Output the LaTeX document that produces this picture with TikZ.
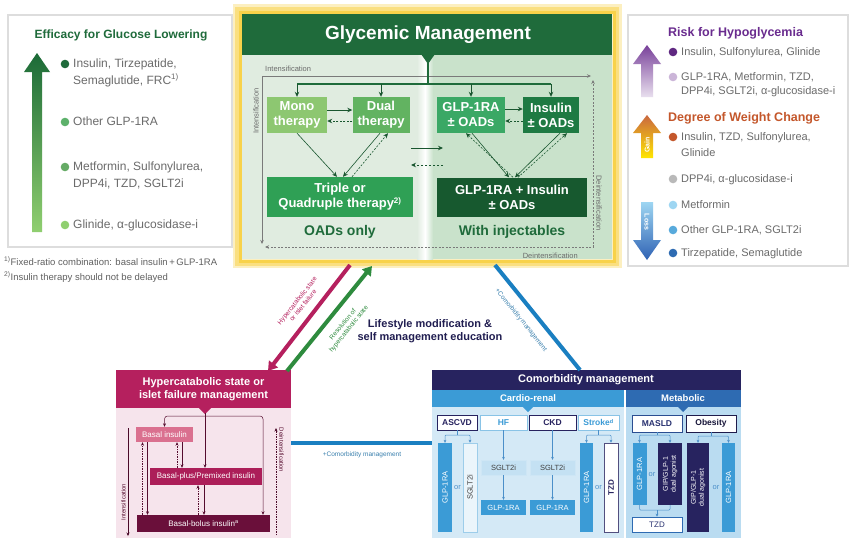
\documentclass[tikz,border=0pt]{standalone}
\usepackage{fontspec}
\setmainfont{Liberation Sans}
\usetikzlibrary{arrows.meta,calc}
\newcommand{\myfs}[2]{\fontsize{#1}{#2}\selectfont}
\definecolor{gmdark}{HTML}{1F6B3B}
\definecolor{gmleft}{HTML}{E0ECE0}
\definecolor{gmright}{HTML}{C9E2CB}
\definecolor{monoc}{HTML}{8DC771}
\definecolor{dualc}{HTML}{62B361}
\definecolor{triplec}{HTML}{2FA055}
\definecolor{glpc}{HTML}{3AA865}
\definecolor{insc}{HTML}{1E7A43}
\definecolor{combc}{HTML}{17592F}
\definecolor{yel}{HTML}{F8D24A}
\definecolor{graytxt}{HTML}{6B6B6B}
\definecolor{linegray}{HTML}{7A7A7A}
\definecolor{purp}{HTML}{6A2C8F}
\definecolor{orng}{HTML}{C4572B}
\definecolor{magent}{HTML}{B5205E}
\definecolor{maroon}{HTML}{6A0F3A}
\definecolor{navy}{HTML}{27235F}
\definecolor{cblue}{HTML}{3B9BD6}
\definecolor{mblue}{HTML}{2E6BB2}
\definecolor{lineblue}{HTML}{1A7FC1}
\definecolor{arrblue}{HTML}{4B8FC9}
\definecolor{panelb}{HTML}{DDDDDD}
\definecolor{arrgreen}{HTML}{2E8B3E}
\definecolor{arrdk}{HTML}{1B6A37}
\definecolor{arrlt}{HTML}{90CF70}
\definecolor{lossTop}{HTML}{9ED6F2}
\definecolor{lossBot}{HTML}{2F62B4}
\begin{document}
\begin{tikzpicture}[x=1pt,y=-1pt,
  panelborder/.style={draw=panelb, line width=1.2pt},
  btxt/.style={anchor=west, inner sep=0pt, text=graytxt, font=\myfs{12}{14}, text height=8.6pt, text depth=2.2pt},
  rtxt/.style={anchor=west, inner sep=0pt, text=graytxt, font=\myfs{11}{13}, text height=8pt, text depth=2pt},
  gbox/.style={text=white, font=\myfs{13}{15}\bfseries, align=center, inner sep=0pt},
  garr/.style={-{Stealth[length=5pt,width=4.5pt]}, line width=0.8pt, color=gmdark!80!black},
  gline/.style={line width=1.2pt, color=gmdark},
  grayarr/.style={line width=0.6pt, color=linegray},
  smalllbl/.style={inner sep=0pt, text=graytxt, font=\myfs{7.5}{9}},
  pbox/.style={inner sep=0pt, text=white, font=\myfs{8}{9}},
  marr/.style={-{Stealth[length=3.5pt,width=3pt]}, line width=0.5pt, color=maroon!80!black},
  cbox/.style={inner sep=0pt, font=\myfs{8.5}{10}\bfseries, line width=0.7pt},
  vbox/.style={inner sep=0pt, text=white, font=\myfs{7.5}{8.5}},
  barr/.style={-{Stealth[length=3pt,width=2.8pt]}, line width=0.5pt, color=arrblue},
  ortxt/.style={inner sep=0pt, text=arrblue, font=\myfs{7.5}{9}}
]
\useasboundingbox (0,0) rectangle (850,539);
\fill[white] (0,0) rectangle (850,539);

% ================= LEFT PANEL =================
\draw[panelborder] (8,15) rectangle (232,247);
\node[inner sep=0pt, font=\myfs{12}{14}\bfseries, text=gmdark] (efftitle) at (121,35) {Efficacy for Glucose Lowering};
\shade[top color=arrdk, bottom color=arrlt] (37,53) -- (50,72) -- (42,72) -- (42,232) -- (32,232) -- (32,72) -- (24,72) -- cycle;
\fill[color=gmdark] (65,64) circle (4.3pt);
\node[btxt] (e1a) at (73,64) {Insulin, Tirzepatide,};
\node[btxt] (e1b) at (73,81) {Semaglutide, FRC\textsuperscript{1)}};
\fill[color=gmdark!75!green!70!white] (65,122) circle (4.3pt);
\node[btxt] (e2) at (73,122) {Other GLP-1RA};
\fill[color=green!45!black!60!white] (65,167) circle (4.3pt);
\node[btxt] (e3a) at (73,167) {Metformin, Sulfonylurea,};
\node[btxt] (e3b) at (73,184) {DPP4i, TZD, SGLT2i};
\fill[color=arrlt] (65,225) circle (4.3pt);
\node[btxt] (e4) at (73,225) {Glinide, α-glucosidase-i};
\node[anchor=west, inner sep=0pt, text=graytxt!90!black, font=\myfs{9.5}{11}] (fn1) at (4,261) {\textsuperscript{1)}Fixed-ratio combination: basal insulin\,+\,GLP-1RA};
\node[anchor=west, inner sep=0pt, text=graytxt!90!black, font=\myfs{9.5}{11}] (fn2) at (4,277) {\textsuperscript{2)}Insulin therapy should not be delayed};

% ================= RIGHT PANEL =================
\draw[panelborder] (628,15) rectangle (848,266);
\node[anchor=west, inner sep=0pt, font=\myfs{12.5}{14}\bfseries, text=purp] (hypo) at (668,33) {Risk for Hypoglycemia};
\shade[top color=purp!90!white, bottom color=purp!15!white] (647,45) -- (661,64) -- (653,64) -- (653,97) -- (641,97) -- (641,64) -- (633,64) -- cycle;
\fill[color=purp!90!black] (673,52) circle (4.3pt);
\node[rtxt] (h1) at (681,52) {Insulin, Sulfonylurea, Glinide};
\fill[color=purp!35!white] (673,77) circle (4.3pt);
\node[rtxt] (h2a) at (681,77) {GLP-1RA, Metformin, TZD,};
\node[rtxt] (h2b) at (681,91) {DPP4i, SGLT2i, α-glucosidase-i};
\node[anchor=west, inner sep=0pt, font=\myfs{12.5}{14}\bfseries, text=orng] (weight) at (668,118) {Degree of Weight Change};
\shade[top color=orng!90!white, bottom color=yellow!80!orange] (647,115) -- (661,133) -- (653,133) -- (653,158) -- (641,158) -- (641,133) -- (633,133) -- cycle;
\node[rotate=90, inner sep=0pt, text=white, font=\myfs{7}{8}\bfseries] (gain) at (647,145) {Gain};
\fill[color=orng] (673,137) circle (4.3pt);
\node[rtxt] (w1a) at (681,137) {Insulin, TZD, Sulfonylurea,};
\node[rtxt] (w1b) at (681,153) {Glinide};
\fill[color=gray!55!white] (673,179) circle (4.3pt);
\node[rtxt] (w2) at (681,179) {DPP4i, α-glucosidase-i};
\fill[color=lossTop] (673,205) circle (4.3pt);
\node[rtxt] (w3) at (681,205) {Metformin};
\fill[color=cblue!85!white] (673,230) circle (4.3pt);
\node[rtxt] (w4) at (681,230) {Other GLP-1RA, SGLT2i};
\fill[color=mblue] (673,253) circle (4.3pt);
\node[rtxt] (w5) at (681,253) {Tirzepatide, Semaglutide};
\shade[top color=lossTop, bottom color=lossBot] (641,202) -- (653,202) -- (653,240) -- (661,240) -- (647,260) -- (633,240) -- (641,240) -- cycle;
\node[rotate=-90, inner sep=0pt, text=white, font=\myfs{7}{8}\bfseries] (loss) at (647,222) {Loss};

% ================= TOP CENTER PANEL =================
\fill[yel!35!white] (233,4) rectangle (622,268);
\draw[yel!70!white, line width=4pt] (237,9) rectangle (617,264);
\draw[yel, line width=3pt] (240,12) rectangle (614,261);
\fill[gmleft] (242,55) rectangle (421,259);
\shade[left color=gmleft, right color=white] (417,55) rectangle (425,259);
\shade[left color=white, right color=gmright] (425,55) rectangle (433,259);
\fill[gmright] (433,55) rectangle (612,259);
\fill[gmdark] (242,14) rectangle (612,55);
\node[inner sep=0pt, text=white, font=\myfs{19}{22}\bfseries] (gmtitle) at (428,35) {Glycemic Management};
\fill[gmdark] (421,54) -- (435,54) -- (428,64) -- cycle;
\coordinate (tri) at (428,63);

% intensification / deintensification loop
\coordinate (intB) at (262,244);
\coordinate (intC) at (262,76);
\coordinate (intR) at (591,76);
\draw[grayarr, {Stealth[length=4pt,width=3.5pt]}-{Stealth[length=4pt,width=3.5pt]}] (intB) -- (intC) -- (intR);
\coordinate (deL) at (265,247);
\coordinate (deC) at (593,247);
\coordinate (deT) at (593,80);
\draw[grayarr, dashed, dash pattern=on 2pt off 1.5pt, {Stealth[length=4pt,width=3.5pt]}-{Stealth[length=4pt,width=3.5pt]}] (deL) -- (deC) -- (deT);
\node[smalllbl, anchor=west] (intlbl1) at (265,69) {Intensification};
\node[smalllbl, rotate=90] (intlbl2) at (256,111) {Intensification};
\node[smalllbl, rotate=-90] (delbl1) at (599,203) {Deintensification};
\node[smalllbl, anchor=east] (delbl2) at (578,256) {Deintensification};

% therapy boxes
\node[gbox, fill=monoc, minimum width=60pt, minimum height=36pt] (mono) at (297,115) {Mono\\therapy};
\node[gbox, fill=dualc, minimum width=57pt, minimum height=36pt] (dual) at (381,115) {Dual\\therapy};
\node[gbox, fill=triplec, minimum width=146pt, minimum height=40pt] (triple) at (340,197) {Triple or\\Quadruple therapy\textsuperscript{\myfs{8}{9}2)}};
\node[gbox, fill=glpc, minimum width=68pt, minimum height=36pt] (glp) at (471,115) {GLP-1RA\\± OADs};
\node[gbox, fill=insc, minimum width=56pt, minimum height=36pt] (ins) at (551,115) {Insulin\\± OADs};
\node[gbox, fill=combc, minimum width=150pt, minimum height=39pt] (comb) at (512,197) {GLP-1RA + Insulin\\± OADs};
\node[inner sep=0pt, text=gmdark, font=\myfs{14}{16}\bfseries] (oads) at (340,232) {OADs only};
\node[inner sep=0pt, text=gmdark, font=\myfs{14}{16}\bfseries] (inj) at (512,232) {With injectables};

% distribution bar
\coordinate (barM) at (428,84);
\draw[gline] (tri) -- (barM);
\draw[gline] (mono.north |- barM) -- (ins.north |- barM);
\draw[garr] (mono.north |- barM) -- (mono.north);
\draw[garr] (dual.north |- barM) -- (dual.north);
\draw[garr] (glp.north |- barM) -- (glp.north);
\draw[garr] (ins.north |- barM) -- (ins.north);

% left half arrows
\draw[garr] ([yshift=5pt]mono.east) -- ([yshift=5pt]dual.west);
\draw[garr, dashed, dash pattern=on 2pt off 1.5pt] ([yshift=-6pt]dual.west) -- ([yshift=-6pt]mono.east);
\draw[garr, line width=0.6pt] (mono.south) -- ([xshift=-3pt]triple.north);
\draw[garr, line width=0.6pt] ([xshift=-1pt]dual.south) -- ([xshift=3pt]triple.north);
\draw[garr, line width=0.6pt, dashed, dash pattern=on 2pt off 1.5pt] ([xshift=12pt]triple.north) -- ([xshift=7pt]dual.south);

% right half arrows
\draw[garr] ([yshift=6pt]glp.east) -- ([yshift=6pt]ins.west);
\draw[garr, dashed, dash pattern=on 2pt off 1.5pt] ([yshift=-6pt]ins.west) -- ([yshift=-6pt]glp.east);
\draw[garr, line width=0.6pt] ([xshift=1pt]glp.south) -- ([xshift=-3pt]comb.north);
\draw[garr, line width=0.6pt, dashed, dash pattern=on 2pt off 1.5pt] ([xshift=1pt]comb.north) -- ([xshift=-5pt]glp.south);
\draw[garr, line width=0.6pt] ([xshift=9pt]ins.south) -- ([xshift=3pt]comb.north);
\draw[garr, line width=0.6pt, dashed, dash pattern=on 2pt off 1.5pt] ([xshift=6pt]comb.north) -- ([xshift=16pt]ins.south);

% middle arrows
\coordinate (ma1) at (411,148);
\coordinate (ma2) at (443,148);
\coordinate (mb1) at (443,165);
\coordinate (mb2) at (411,165);
\draw[garr, line width=1pt] (ma1) -- (ma2);
\draw[garr, line width=1pt, dashed, dash pattern=on 2.5pt off 1.5pt] (mb1) -- (mb2);

% ================= BOTTOM LEFT =================
\fill[magent!12!white] (116,408) rectangle (291,538);
\fill[magent] (116,370) rectangle (291,408);
\node[inner sep=0pt, text=white, font=\myfs{11}{13.5}\bfseries, align=center] (hyptitle) at (203.5,389) {Hypercatabolic state or\\islet failure management};
\fill[magent] (198,407) -- (212,407) -- (205,414) -- cycle;
\coordinate (htri) at (205,413);
\node[pbox, fill=magent!50!pink, minimum width=57pt, minimum height=15pt] (basal) at (164.5,434.5) {Basal insulin};
\node[pbox, fill=magent!95!black, minimum width=112pt, minimum height=17pt] (bplus) at (206,476.5) {Basal-plus/Premixed insulin};
\node[pbox, fill=maroon, minimum width=133pt, minimum height=17pt] (bbolus) at (203.5,523.5) {Basal-bolus insulin\textsuperscript{\myfs{5.5}{6}a}};
\coordinate (hbar) at (205,416);
\coordinate (hbarR) at (263,416);
\draw[marr] (htri) -- (bplus.north -| htri);
\draw[marr, rounded corners=3pt] (hbar) -- (basal.north |- hbar) -- (basal.north);
\draw[marr, rounded corners=3pt] (hbar) -- (hbarR) -- (hbarR |- bbolus.north);
\draw[marr] ([xshift=-17pt]basal.south) -- ([xshift=-17pt]basal.south |- bbolus.north);
\draw[marr, dashed, dash pattern=on 1.5pt off 1pt] ([xshift=-22pt]basal.south |- bbolus.north) -- ([xshift=-22pt]basal.south);
\draw[marr] ([xshift=17.5pt]basal.south) -- ([xshift=17.5pt]basal.south |- bplus.north);
\draw[marr, dashed, dash pattern=on 1.5pt off 1pt] ([xshift=12.5pt]basal.south |- bplus.north) -- ([xshift=12.5pt]basal.south);
\draw[marr] ([xshift=-2pt]bplus.south) -- ([xshift=-2pt]bplus.south |- bbolus.north);
\draw[marr, dashed, dash pattern=on 1.5pt off 1pt] ([xshift=-8pt]bplus.south |- bbolus.north) -- ([xshift=-8pt]bplus.south);
\coordinate (hiT) at (128,428);
\coordinate (hiB) at (128,536);
\draw[marr, color=maroon!70!black] (hiT) -- (hiB);
\node[rotate=90, inner sep=0pt, text=maroon!80!black, font=\myfs{6}{7}] (hilbl) at (123.5,502) {Intensification};
\coordinate (hdB) at (276,535);
\coordinate (hdT) at (276,428);
\draw[marr, dashed, dash pattern=on 1.5pt off 1pt, color=maroon!70!black] (hdB) -- (hdT);
\node[rotate=-90, inner sep=0pt, text=maroon!80!black, font=\myfs{6}{7}] (hdlbl) at (281.5,450) {Deintensification};

% ================= BOTTOM RIGHT =================
\fill[cblue!22!white] (432,407) rectangle (624,538);
\fill[cblue!35!white] (626,407) rectangle (741,538);
\fill[navy] (432,370) rectangle (741,390);
\node[inner sep=0pt, text=white, font=\myfs{11}{13}\bfseries] (comtitle) at (586,380) {Comorbidity management};
\fill[cblue] (432,390) rectangle (624,407);
\fill[mblue] (626,390) rectangle (741,407);
\node[inner sep=0pt, text=white, font=\myfs{9.5}{11}\bfseries] (cardio) at (528,398.5) {Cardio-renal};
\node[inner sep=0pt, text=white, font=\myfs{9.5}{11}\bfseries] (metab) at (683,398.5) {Metabolic};
\fill[cblue] (522,406) -- (534,406) -- (528,412) -- cycle;
\fill[mblue] (677,406) -- (689,406) -- (683,412) -- cycle;

\node[cbox, fill=white, draw=navy, text=navy, minimum width=40pt, minimum height=15pt] (ascvd) at (457,422.5) {ASCVD};
\node[cbox, fill=white, draw=cblue!60!white, text=cblue, minimum width=47pt, minimum height=15pt] (hf) at (503.5,422.5) {HF};
\node[cbox, fill=white, draw=navy, text=navy, minimum width=47pt, minimum height=15pt] (ckd) at (552.5,422.5) {CKD};
\node[cbox, fill=white, draw=cblue!60!white, text=cblue, minimum width=41pt, minimum height=15pt] (stroke) at (598.5,422.5) {Stroke\textsuperscript{\myfs{5.5}{6}d}};

\node[vbox, fill=cblue, minimum width=14pt, minimum height=89pt] (glpA) at (445,487.5) {\rotatebox{90}{GLP-1RA}};
\node[vbox, fill=cblue!10!white, draw=cblue!50!white, line width=0.6pt, text=black!75, minimum width=14pt, minimum height=89pt] (sgltA) at (470,487.5) {\rotatebox{90}{SGLT2i}};
\node[ortxt] (orA) at (457.5,488) {or};
\node[vbox, fill=cblue!30!white, draw=cblue!25!white, text=black!75, minimum width=45pt, minimum height=15pt] (sgltH) at (503.5,467.5) {SGLT2i};
\node[vbox, fill=cblue, minimum width=45pt, minimum height=15pt] (glpH) at (503.5,507.5) {GLP-1RA};
\node[vbox, fill=cblue!30!white, draw=cblue!25!white, text=black!75, minimum width=45pt, minimum height=15pt] (sgltC) at (552.5,467.5) {SGLT2i};
\node[vbox, fill=cblue, minimum width=45pt, minimum height=15pt] (glpC) at (552.5,507.5) {GLP-1RA};
\node[vbox, fill=cblue, minimum width=13pt, minimum height=89pt] (glpS) at (586.5,487.5) {\rotatebox{90}{GLP-1RA}};
\node[vbox, fill=white, draw=navy!80!white, line width=0.6pt, text=navy, font=\myfs{8}{9}\bfseries, minimum width=14pt, minimum height=89pt] (tzdS) at (611,487.5) {\rotatebox{90}{TZD}};
\node[ortxt] (orS) at (598.5,488) {or};

\coordinate (aspl) at (457,435);
\draw[barr, -] (ascvd.south) -- (aspl);
\draw[barr, rounded corners=1pt] (aspl) -- (glpA.north |- aspl) -- (glpA.north);
\draw[barr, rounded corners=1pt] (aspl) -- (sgltA.north |- aspl) -- (sgltA.north);
\draw[barr] (hf.south) -- (sgltH.north);
\draw[barr] (sgltH.south) -- (glpH.north);
\draw[barr] (ckd.south) -- (sgltC.north);
\draw[barr] (sgltC.south) -- (glpC.north);
\coordinate (stspl) at (598.5,435);
\draw[barr, -] (stroke.south) -- (stspl);
\draw[barr, rounded corners=1pt] (stspl) -- (glpS.north |- stspl) -- (glpS.north);
\draw[barr, rounded corners=1pt] (stspl) -- (tzdS.north |- stspl) -- (tzdS.north);

\node[cbox, fill=white, draw=mblue!60!navy, text=navy!80!mblue, minimum width=50pt, minimum height=17pt] (masld) at (657,423.5) {MASLD};
\node[cbox, fill=white, draw=navy!80!black, text=navy!60!black, minimum width=50pt, minimum height=17pt] (obes) at (711,423.5) {Obesity};
\node[vbox, fill=cblue, minimum width=14pt, minimum height=62pt] (glpM) at (639.5,474) {\rotatebox{90}{GLP-1RA}};
\node[vbox, fill=navy, font=\myfs{7}{7.5}, minimum width=24pt, minimum height=62pt] (gipM) at (670,474) {\rotatebox{90}{\shortstack{GIP/GLP-1\\dual agonist}}};
\node[ortxt] (orM) at (652,475) {or};
\node[cbox, fill=white, draw=mblue, text=navy!80!mblue, font=\myfs{8}{9}, minimum width=50pt, minimum height=15pt] (tzdM) at (657,524.5) {TZD};
\node[vbox, fill=navy, font=\myfs{7}{7.5}, minimum width=22pt, minimum height=89pt] (gipO) at (698,487.5) {\rotatebox{90}{\shortstack{GIP/GLP-1\\dual agonist}}};
\node[vbox, fill=cblue, minimum width=13pt, minimum height=89pt] (glpO) at (728.5,487.5) {\rotatebox{90}{GLP-1RA}};
\node[ortxt] (orO) at (716,488) {or};

\coordinate (maspl) at (657,435);
\draw[barr, -] (masld.south) -- (maspl);
\draw[barr, rounded corners=1pt] (maspl) -- (glpM.north |- maspl) -- (glpM.north);
\draw[barr, rounded corners=1pt] (maspl) -- (gipM.north |- maspl) -- (gipM.north);
\coordinate (mjoin) at (657,510);
\draw[barr, -, rounded corners=1pt] (glpM.south) -- (glpM.south |- mjoin) -- (gipM.south |- mjoin) -- (gipM.south);
\draw[barr] (mjoin) -- (tzdM.north);
\coordinate (obspl) at (711,436);
\draw[barr, -] (obes.south) -- (obspl);
\draw[barr, rounded corners=1pt] (obspl) -- (gipO.north |- obspl) -- (gipO.north);
\draw[barr, rounded corners=1pt] (obspl) -- (glpO.north |- obspl) -- (glpO.north);

% ================= CONNECTORS BETWEEN PANELS =================
\coordinate (magTop) at (350,265);
\coordinate (magBot) at (268,371);
\coordinate (grnBot) at (287,371);
\coordinate (grnTop) at (372,266);
\coordinate (bluTop) at (495,265);
\coordinate (bluBot) at (580,370);
\coordinate (hzL) at (291,443);
\coordinate (hzR) at (432,443);
\draw[magent, line width=4pt, -{Triangle[length=9pt,width=11pt]}] (magTop) -- (magBot);
\draw[arrgreen, line width=4pt, -{Triangle[length=9pt,width=11pt]}] (grnBot) -- (grnTop);
\draw[lineblue, line width=4pt] (bluTop) -- (bluBot);
\draw[lineblue, line width=4pt] (hzL) -- (hzR);
\node[rotate=51.5, inner sep=0pt, text=magent, font=\myfs{6.5}{7.5}, align=center] (maglbl) at (300,303) {Hypercatabolic state\\or islet failure};
\node[rotate=51, inner sep=0pt, text=arrgreen, font=\myfs{6.5}{7.5}, align=center] (grnlbl) at (346,327) {Resolution of\\hypercatabolic state};
\node[rotate=-51, inner sep=0pt, text=lineblue!70!gray, font=\myfs{6.5}{7.5}] (blulbl) at (521,320) {+Comorbidity management};
\node[inner sep=0pt, text=lineblue!70!gray, font=\myfs{6.5}{7.5}] (hzlbl) at (362,455) {+Comorbidity management};
\node[inner sep=0pt, text=navy!85!black, font=\myfs{11}{13.5}\bfseries, align=center] (lifestyle) at (430,331) {Lifestyle modification \&\\self management education};
\end{tikzpicture}
\end{document}
